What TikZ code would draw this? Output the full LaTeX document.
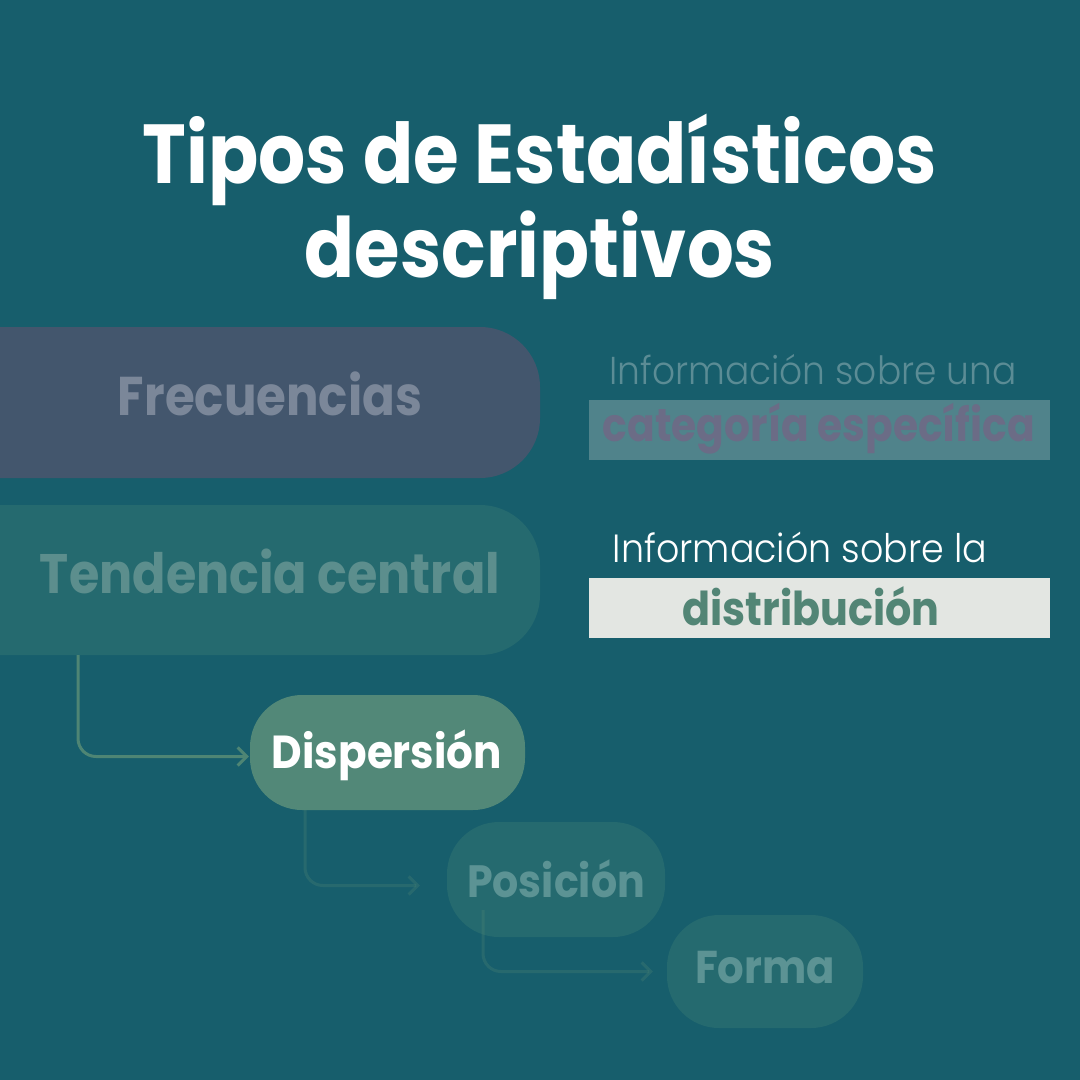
\documentclass[tikz,border=0pt]{standalone}
\usepackage{fontspec}
\setmainfont{Poppins}
\newfontfamily\lightfont{Poppins Light}
\usetikzlibrary{arrows.meta}
\definecolor{bg}{HTML}{175E6C}
\definecolor{frecbox}{HTML}{43566D}
\definecolor{frectext}{HTML}{7B8799}
\definecolor{tendbox}{HTML}{256A6F}
\definecolor{tendtext}{HTML}{5C8E8D}
\definecolor{infodim}{HTML}{5B8C95}
\definecolor{catbox}{HTML}{50838B}
\definecolor{cattext}{HTML}{6B6C86}
\definecolor{distbox}{HTML}{E3E6E2}
\definecolor{disttext}{HTML}{528575}
\definecolor{dispbox}{HTML}{528878}
\definecolor{postext}{HTML}{5C9394}
\definecolor{arrowA}{HTML}{4E8574}
\newcommand{\fitw}[3]{\scalebox{1}[#2]{\resizebox{#1pt}{!}{#3}}}
\tikzset{
  pill/.style={rectangle, inner sep=0pt, draw=none},
  lbl/.style={inner sep=0pt, anchor=base},
  conn/.style={line width=3pt, rounded corners=18pt, -{Straight Barb[length=9pt,width=18pt,line width=3pt]}},
}
\begin{document}
\begin{tikzpicture}[x=1pt,y=-1pt]
\useasboundingbox (0,0) rectangle (1080,1080);
\fill[bg] (0,0) rectangle (1080,1080);
\begin{scope}
\clip (0,0) rectangle (1080,1080);
% title
\node[lbl, text=white, font=\bfseries] (t1) at (540,183) {\fitw{794}{1.13}{Tipos de Estadísticos}};
\node[lbl, text=white, font=\bfseries] (t2) at (540,277) {\fitw{470}{1.13}{descriptivos}};
% left boxes
\node[pill, fill=frecbox, minimum width=620pt, minimum height=151pt, rounded corners=60pt] (frec) at (230,402.5) {};
\node[lbl, text=frectext, font=\bfseries] (frect) at (270,415) {\fitw{304}{1.13}{Frecuencias}};
\node[pill, fill=tendbox, minimum width=620pt, minimum height=150pt, rounded corners=60pt] (tend) at (230,580) {};
\node[lbl, text=tendtext, font=\bfseries] (tendt) at (270,593) {\fitw{460}{1.13}{Tendencia central}};
% right info
\node[lbl, text=infodim, font=\lightfont] (info1) at (813,384) {\fitw{407}{1.08}{Información sobre una}};
\node[pill, fill=catbox, minimum width=461pt, minimum height=60pt] (cat) at (819.5,430) {};
\node[lbl, text=cattext, font=\bfseries] (catt) at (819,441) {\fitw{432}{1.13}{categoría específica}};
\node[lbl, text=white, font=\lightfont] (info2) at (800,562) {\fitw{374}{1.08}{Información sobre la}};
\node[pill, fill=distbox, minimum width=461pt, minimum height=60pt] (dist) at (819.5,608) {};
\node[lbl, text=disttext, font=\bfseries] (distt) at (811,625) {\fitw{257}{1.13}{distribución}};
% chain
\node[pill, fill=dispbox, minimum width=275pt, minimum height=115pt, rounded corners=52pt] (disp) at (387.5,752.5) {};
\node[lbl, text=white, font=\bfseries] (dispt) at (387,768) {\fitw{230}{1.1}{Dispersión}};
\node[pill, fill=tendbox, minimum width=218pt, minimum height=115pt, rounded corners=52pt] (pos) at (556,879.5) {};
\node[lbl, text=postext, font=\bfseries] (post) at (556,897) {\fitw{178}{1.1}{Posición}};
\node[pill, fill=tendbox, minimum width=196pt, minimum height=113pt, rounded corners=52pt] (forma) at (765,971.5) {};
\node[lbl, text=postext, font=\bfseries] (format) at (765,983) {\fitw{140}{1.1}{Forma}};
% connectors
\coordinate (c1) at (78,0);
\coordinate (c2) at (305,0);
\coordinate (c3) at (483,0);
\draw[conn, arrowA, shorten >=1pt] (tend.south -| c1) |- ([yshift=-4pt]disp.west);
\draw[conn, arrowA, draw opacity=0.3, shorten >=27pt] (disp.south -| c2) |- ([yshift=-6pt]pos.west);
\draw[conn, arrowA, draw opacity=0.3, shorten >=14pt] ([yshift=27pt]pos.south -| c3) |- (forma.west);
\end{scope}
\end{tikzpicture}
\end{document}
